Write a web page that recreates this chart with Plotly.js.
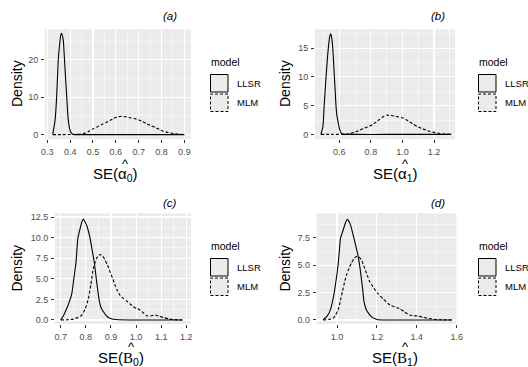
<!DOCTYPE html>
<html>
<head>
<meta charset="utf-8">
<script src="https://cdn.plot.ly/plotly-3.0.1.min.js"></script>
<style>html,body{margin:0;padding:0;background:#fff;}#chart{width:528px;height:367px;}</style>
</head>
<body>
<div id="chart"></div>
<script>
// ---------- data ----------
const seriesNames = ["LLSR", "MLM"];
const panelLabels = ["(a)", "(b)", "(c)", "(d)"];

// Panel (a): SE(alpha0)
const a_llsr_x = [0.324,0.334,0.341,0.348,0.352,0.356,0.359,0.363,0.366,0.370,0.374,0.378,0.385,0.392,0.402,0.414,0.45,0.5,0.6,0.7,0.8,0.9];
const a_llsr_y = [0,3.8,10.1,19.9,23.0,25.3,26.7,27.1,26.5,25.3,21.5,17.2,10.1,3.8,0.7,0.05,0,0,0,0,0,0];
const a_mlm_x = [0.324,0.36,0.40,0.43,0.458,0.48,0.502,0.52,0.538,0.556,0.575,0.59,0.604,0.626,0.645,0.662,0.68,0.699,0.717,0.735,0.754,0.772,0.79,0.808,0.83,0.852,0.875,0.9];
const a_mlm_y = [0,0,0.02,0.08,0.25,0.8,1.6,2.1,2.7,3.2,3.8,4.3,4.7,4.9,4.75,4.5,4.3,4.0,3.5,2.9,2.4,1.9,1.4,0.9,0.55,0.3,0.1,0];

// Panel (b): SE(alpha1)
const b_llsr_x = [0.483,0.496,0.504,0.51,0.516,0.524,0.531,0.539,0.546,0.552,0.558,0.564,0.569,0.574,0.579,0.585,0.59,0.597,0.604,0.612,0.621,0.7,0.9,1.1,1.31];
const b_llsr_y = [0,1.3,5,7.5,10,13,15.2,17,17.5,16.8,15.2,12.5,10,7.5,5,3.2,2.5,1.5,0.75,0.25,0.05,0,0,0,0];
const b_mlm_x = [0.483,0.55,0.62,0.667,0.70,0.73,0.76,0.793,0.815,0.835,0.857,0.877,0.902,0.925,0.95,0.975,0.999,1.022,1.045,1.07,1.1,1.125,1.15,1.175,1.2,1.227,1.254,1.28,1.31];
const b_mlm_y = [0,0,0.02,0.15,0.4,0.75,1.1,1.45,1.8,2.2,2.65,3.06,3.35,3.3,3.2,3.05,2.9,2.6,2.2,1.75,1.3,1.0,0.75,0.5,0.35,0.2,0.12,0.05,0];

// Panel (c): SE(B0)
const c_llsr_x = [0.7,0.712,0.724,0.734,0.744,0.752,0.761,0.768,0.777,0.784,0.79,0.797,0.803,0.81,0.817,0.825,0.833,0.843,0.854,0.862,0.87,0.882,0.896,0.91,0.93,1.0,1.1,1.185];
const c_llsr_y = [0,0.6,1.42,2.2,3.2,5.0,7.1,9.9,11.1,11.9,12.25,11.9,11.5,10.8,9.9,8.5,7.1,4.65,2.2,1.4,1.0,0.5,0.2,0.08,0.02,0,0,0];
const c_mlm_x = [0.7,0.725,0.75,0.768,0.784,0.797,0.81,0.82,0.83,0.837,0.843,0.85,0.857,0.866,0.876,0.886,0.896,0.906,0.916,0.926,0.936,0.95,0.963,0.976,0.989,1.003,1.016,1.03,1.043,1.06,1.076,1.092,1.109,1.13,1.149,1.17,1.185];
const c_mlm_y = [0,0.02,0.1,0.3,0.6,1.3,2.6,4.3,6.3,7.0,7.5,7.8,7.95,7.8,7.3,6.7,5.9,5.1,4.25,3.55,3.0,2.6,2.3,1.95,1.6,1.4,1.2,0.85,0.5,0.5,0.6,0.45,0.3,0.12,0.05,0.01,0];

// Panel (d): SE(B1)
const d_llsr_x = [0.93,0.948,0.963,0.975,0.985,0.995,1.005,1.012,1.017,1.025,1.034,1.043,1.052,1.06,1.067,1.076,1.085,1.095,1.105,1.114,1.122,1.129,1.135,1.147,1.16,1.172,1.19,1.205,1.3,1.45,1.577];
const d_llsr_y = [0,0.3,0.76,1.5,2.4,3.6,5.0,6.4,7.45,7.9,8.4,8.9,9.2,9.0,8.7,8.1,7.45,6.7,5.9,4.9,3.8,2.7,1.7,0.9,0.55,0.3,0.1,0.02,0,0,0];
const d_mlm_x = [0.93,0.96,0.98,0.993,1.005,1.016,1.027,1.037,1.047,1.06,1.072,1.085,1.097,1.11,1.122,1.131,1.139,1.151,1.164,1.185,1.205,1.23,1.255,1.272,1.289,1.302,1.314,1.34,1.364,1.385,1.405,1.43,1.455,1.485,1.51,1.545,1.577];
const d_mlm_y = [0,0.05,0.15,0.45,0.9,1.7,2.6,3.4,4.1,4.7,5.2,5.6,5.8,5.75,5.5,5.1,4.7,4.1,3.5,2.9,2.4,1.95,1.5,1.3,1.2,1.1,1.05,0.7,0.45,0.38,0.36,0.25,0.15,0.06,0.02,0.005,0];

// ---------- layout helpers ----------
const W = 528, H = 367;
const px = v => v / W;
const py = v => 1 - v / H;
const SANS = "Liberation Sans, Arial, sans-serif";
const SERIF = "Liberation Serif, Times New Roman, serif";

// panel boxes in pixels: [left, right, top, bottom]
const boxes = [[45,191,29.3,139.3],[315,455,29.3,139.3],[55,191,213.3,324],[316.7,457.7,213.3,324]];
const xranges = [[0.290,0.929],[0.446,1.333],[0.677,1.219],[0.898,1.605]];
const yranges = [[-1.26,28.2],[-0.85,18.28],[-0.49,12.95],[-0.37,9.74]];
const xdt = [[0.1,0.05],[0.2,0.1],[0.1,0.05],[0.2,0.1]];
const ydt = [[10,5],[5,2.5],[2.5,1.25],[2.5,1.25]];
const yfmt = ["d","d",".1f",".1f"];

const layout = {
  width: W, height: H,
  margin: {l:0,r:0,t:0,b:0},
  paper_bgcolor: "#ffffff",
  plot_bgcolor: "#EBEBEB",
  showlegend: false,
  font: {family: SANS, color: "#000"},
  annotations: [],
  shapes: []
};

function axisCommon(range, dt, fmt) {
  return {
    range: range, autorange: false,
    tickmode: "linear", tick0: 0, dtick: dt[0],
    tickformat: fmt,
    showgrid: true, gridcolor: "#FFFFFF", gridwidth: 1.1,
    minor: {dtick: dt[1], tick0: 0, showgrid: true, gridcolor: "#FFFFFF", gridwidth: 0.5},
    zeroline: false, showline: false,
    ticks: "outside", ticklen: 3, tickwidth: 1, tickcolor: "#333333",
    tickfont: {family: SANS, size: 9, color: "#4D4D4D"},
    fixedrange: true
  };
}

for (let i = 0; i < 4; i++) {
  const b = boxes[i];
  const sx = i === 0 ? "" : String(i+1);
  const xa = axisCommon(xranges[i], xdt[i], ".1f");
  xa.domain = [px(b[0]), px(b[1])];
  xa.anchor = "y" + sx;
  xa.ticklabelstandoff = 1;
  const ya = axisCommon(yranges[i], ydt[i], yfmt[i]);
  ya.domain = [py(b[3]), py(b[2])];
  ya.anchor = "x" + sx;
  ya.ticklabelstandoff = 1;
  layout["xaxis" + sx] = xa;
  layout["yaxis" + sx] = ya;
}

function ann(text, x, y, opts) {
  layout.annotations.push(Object.assign({
    text: text, x: px(x), y: py(y), xref: "paper", yref: "paper",
    showarrow: false, xanchor: "center", yanchor: "middle",
    font: {family: SANS, size: 10, color: "#000"}
  }, opts || {}));
}

// panel titles
const titlePos = [[170,16],[437.5,16],[170,203],[437.5,203]];
panelLabels.forEach((t, i) => ann("<i>" + t + "</i>", titlePos[i][0], titlePos[i][1], {font: {family: SANS, size: 11.5, color: "#000"}}));

// y-axis titles
const yTitlePos = [[17,84],[285,84],[17,268.6],[285,268.6]];
yTitlePos.forEach(p => ann("Density", p[0], p[1], {textangle: -90, font: {family: SANS, size: 14, color: "#000"}}));

// x-axis titles
const xSym = ["α","α","B","B"];
const xSub = ["0","1","0","1"];
const xTitlePos = [[115,174],[395,174],[121,358.5],[395,358.5]];
for (let i = 0; i < 4; i++) {
  const p = xTitlePos[i];
  const txt = "SE(<span style='font-family:" + (i < 2 ? SANS : SERIF) + "'>" + xSym[i] + "</span><sub>" + xSub[i] + "</sub>)";
  ann(txt, p[0], p[1], {font: {family: SANS, size: 15, color: "#000"}});
  // hat above the symbol
  ann("^", p[0] + 10, p[1] - (i < 2 ? 10 : 12), {font: {family: SANS, size: 13, color: "#000"}});
}

// legends
const legPos = [[209,62],[477,62],[209,246],[477,246]];
legPos.forEach((p, i) => {
  ann("model", p[0], p[1], {xanchor: "left", font: {family: SANS, size: 10.5, color: "#000"}});
  const top = p[1] + 12.5;
  for (let k = 0; k < 2; k++) {
    const y0 = top + k * 19.5, y1 = y0 + 17.5;
    layout.shapes.push({type: "rect", xref: "paper", yref: "paper",
      x0: px(p[0] + 1.5), x1: px(p[0] + 19), y0: py(y1), y1: py(y0),
      fillcolor: "#EBEBEB",
      line: {color: "#000", width: 1, dash: k === 0 ? "solid" : "3px,2px"}});
    ann(seriesNames[k], p[0] + 26, (y0 + y1) / 2, {xanchor: "left", font: {family: SANS, size: 9.5, color: "#000"}});
  }
});

// ---------- traces ----------
const panels = [
  [a_llsr_x, a_llsr_y, a_mlm_x, a_mlm_y],
  [b_llsr_x, b_llsr_y, b_mlm_x, b_mlm_y],
  [c_llsr_x, c_llsr_y, c_mlm_x, c_mlm_y],
  [d_llsr_x, d_llsr_y, d_mlm_x, d_mlm_y]
];
const traces = [];
panels.forEach((p, i) => {
  const sx = i === 0 ? "" : String(i+1);
  traces.push({x: p[0], y: p[1], type: "scatter", mode: "lines", name: seriesNames[0],
    xaxis: "x" + sx, yaxis: "y" + sx, line: {color: "#000", width: 1.1, shape: "spline", smoothing: 0.5}, cliponaxis: true});
  traces.push({x: p[2], y: p[3], type: "scatter", mode: "lines", name: seriesNames[1],
    xaxis: "x" + sx, yaxis: "y" + sx, line: {color: "#000", width: 1.1, dash: "3px,2px", shape: "spline", smoothing: 0.5}, cliponaxis: true});
});

Plotly.newPlot("chart", traces, layout, {staticPlot: true, displayModeBar: false});
</script>
</body>
</html>
